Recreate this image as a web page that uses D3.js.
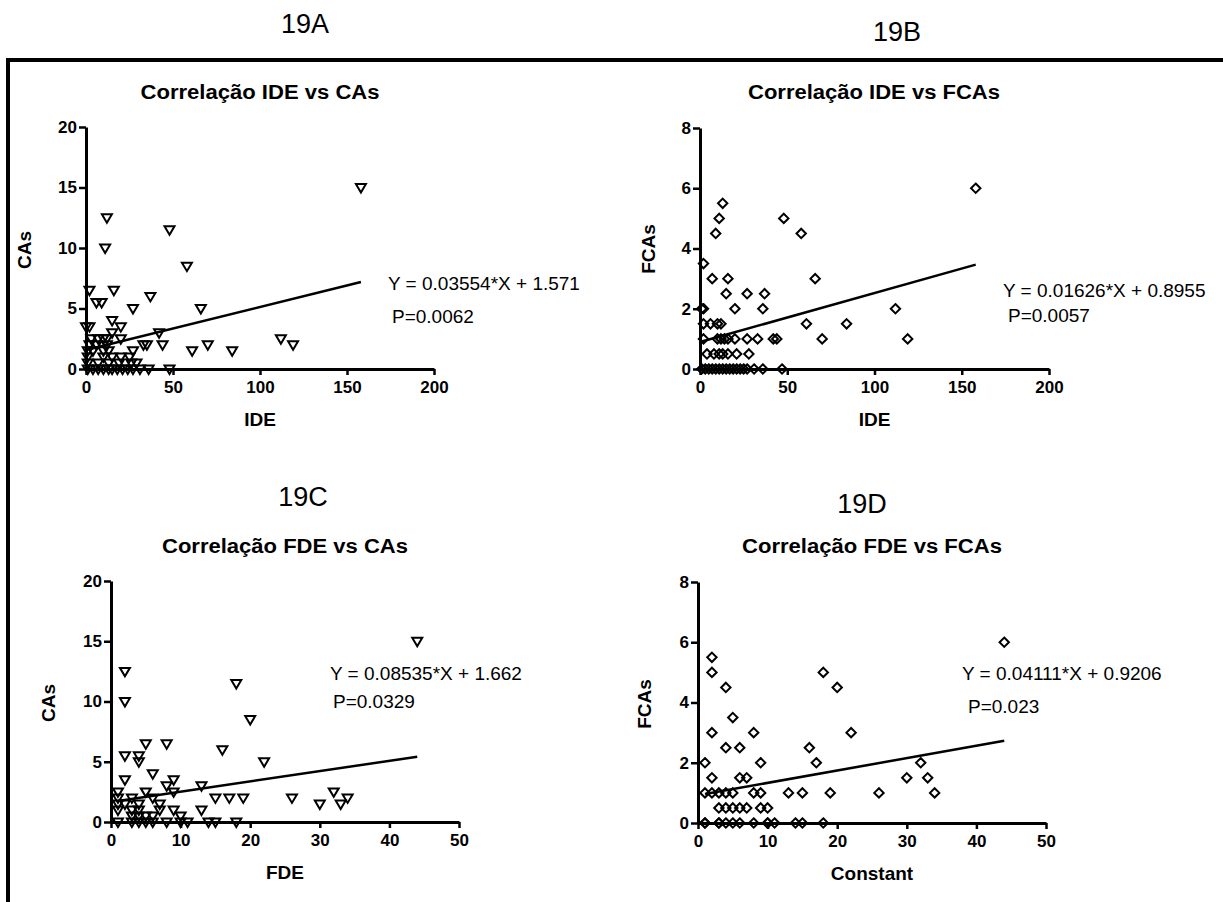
<!DOCTYPE html>
<html>
<head>
<meta charset="utf-8">
<script src="https://cdn.jsdelivr.net/npm/d3@7"></script>
<style>
  body { margin: 0; background: #fff; }
  text { font-family: "Liberation Sans", Arial, sans-serif; fill: #000; }
</style>
</head>
<body>
<svg id="chart"></svg>
<script>
const width = 1223, height = 902;

// 19A: IDE vs CAs
const ideA = [158, 12, 11, 48, 58, 2, 16, 37, 6, 9, 27, 66, 15, 2, 20, 42, 15, 0, 112, 119, 61, 70, 84, 44, 33, 35, 48,
  3, 7, 10, 12, 20, 1, 4, 10, 13, 27, 1, 10, 15, 20, 25, 1, 7, 13, 19, 26, 29,
  1, 4, 7, 10, 13, 15, 18, 21, 24, 27, 31, 36, 2, 6, 12];
const casA = [15, 12.5, 10, 11.5, 8.5, 6.5, 6.5, 6, 5.5, 5.5, 5, 5, 4, 3.5, 3.5, 3, 3, 3.5, 2.5, 2, 1.5, 2, 1.5, 2, 2, 2, 0,
  2.5, 2.5, 2.5, 2.5, 2.5, 1.5, 1.5, 1.5, 1.5, 1.5, 1, 1, 1, 1, 1, 0.5, 0.5, 0.5, 0.5, 0.5, 0.5,
  0, 0, 0, 0, 0, 0, 0, 0, 0, 0, 0, 0, 2, 2, 2];

// 19B: IDE vs FCAs
const ideB = [158, 13, 11, 9, 48, 58, 2, 7, 16, 66, 15, 27, 37, 1, 2, 20, 36, 112, 61, 84, 70, 119,
  2, 6, 10, 12, 2, 10, 12, 14, 16, 20, 27, 33, 42, 44,
  4, 8, 11, 13, 16, 21, 28,
  1, 3, 5, 7, 9, 11, 13, 15, 17, 19, 21, 23, 25, 27, 31, 36, 47];
const fcasB = [6, 5.5, 5, 4.5, 5, 4.5, 3.5, 3, 3, 3, 2.5, 2.5, 2.5, 2, 2, 2, 2, 2, 1.5, 1.5, 1, 1,
  1.5, 1.5, 1.5, 1.5, 1, 1, 1, 1, 1, 1, 1, 1, 1, 1,
  0.5, 0.5, 0.5, 0.5, 0.5, 0.5, 0.5,
  0, 0, 0, 0, 0, 0, 0, 0, 0, 0, 0, 0, 0, 0, 0, 0, 0];

// 19C: FDE vs CAs
const fdeC = [44, 2, 2, 18, 20, 5, 8, 16, 2, 4, 4, 22, 6, 2, 9, 8, 13, 9, 5, 1, 32, 15, 17, 19, 26, 34, 30, 33, 13, 9,
  1, 3, 6, 7, 1, 2, 4, 1, 3, 4, 7, 10, 6, 4, 3, 5,
  1, 3, 4, 5, 6, 8, 10, 11, 14, 15, 18];
const casC = [15, 12.5, 10, 11.5, 8.5, 6.5, 6.5, 6, 5.5, 5.5, 5, 5, 4, 3.5, 3.5, 3, 3, 2.5, 2.5, 2.5, 2.5, 2, 2, 2, 2, 2, 1.5, 1.5, 1, 1,
  2, 2, 2, 1.5, 1.5, 1.5, 1.5, 1, 1, 1, 1, 0.5, 0.5, 0.5, 0.5, 0.5,
  0, 0, 0, 0, 0, 0, 0, 0, 0, 0, 0];

// 19D: FDE vs FCAs
const fdeD = [44, 2, 2, 4, 20, 18, 5, 2, 8, 22, 4, 6, 16, 1, 9, 17, 32, 2, 6, 7, 30, 33,
  1, 2, 3, 4, 5, 8, 9, 13, 15, 19, 26, 34,
  3, 4, 5, 6, 7, 9, 10,
  1, 1, 3, 3, 4, 5, 6, 8, 10, 10, 11, 14, 15, 18];
const fcasD = [6, 5.5, 5, 4.5, 4.5, 5, 3.5, 3, 3, 3, 2.5, 2.5, 2.5, 2, 2, 2, 2, 1.5, 1.5, 1.5, 1.5, 1.5,
  1, 1, 1, 1, 1, 1, 1, 1, 1, 1, 1, 1,
  0.5, 0.5, 0.5, 0.5, 0.5, 0.5, 0.5,
  0, 0, 0, 0, 0, 0, 0, 0, 0, 0, 0, 0, 0, 0];

const ticksIDE = [0, 50, 100, 150, 200];
const ticksFDE = [0, 10, 20, 30, 40, 50];
const ticksCAs = [0, 5, 10, 15, 20];
const ticksFCAs = [0, 2, 4, 6, 8];

const svg = d3.select("#chart").attr("width", width).attr("height", height);

svg.append("rect").attr("width", width).attr("height", height).attr("fill", "#fff");

// moldura
svg.append("rect")
  .attr("x", 8).attr("y", 60).attr("width", 1230).attr("height", 900)
  .attr("fill", "none").attr("stroke", "#000").attr("stroke-width", 4);

const panelLabels = [
  { t: "19A", x: 305, y: 33 },
  { t: "19B", x: 897, y: 41 },
  { t: "19C", x: 303, y: 506 },
  { t: "19D", x: 862, y: 513 }
];
svg.selectAll(".plabel").data(panelLabels).enter().append("text")
  .attr("class", "plabel")
  .attr("x", d => d.x).attr("y", d => d.y)
  .attr("text-anchor", "middle")
  .style("font-size", "27px")
  .text(d => d.t);

const triangle = "M-5,-3.5L5,-3.5L0,5Z";
const diamond = "M0,-4.7L4.7,0L0,4.7L-4.7,0Z";

function drawPanel(p) {
  const x = d3.scaleLinear().domain([0, p.xTicks[p.xTicks.length - 1]]).range([p.x0, p.x1]);
  const y = d3.scaleLinear().domain([0, p.yTicks[p.yTicks.length - 1]]).range([p.y0, p.y1]);
  const g = svg.append("g");

  g.append("text")
    .attr("x", p.titleX).attr("y", p.titleY)
    .attr("text-anchor", "middle")
    .attr("textLength", p.titleW).attr("lengthAdjust", "spacingAndGlyphs")
    .style("font-size", "20px").style("font-weight", "bold")
    .text(p.title);

  const xAxis = g.append("g").attr("transform", `translate(0,${p.y0})`)
    .call(d3.axisBottom(x).tickValues(p.xTicks).tickSize(6).tickSizeOuter(0).tickPadding(6));
  const yAxis = g.append("g").attr("transform", `translate(${p.x0},0)`)
    .call(d3.axisLeft(y).tickValues(p.yTicks).tickSize(7).tickSizeOuter(0).tickPadding(2));
  [xAxis, yAxis].forEach(a => {
    a.select(".domain").attr("stroke", "#000").attr("stroke-width", 3);
    a.selectAll(".tick line").attr("stroke", "#000").attr("stroke-width", 2.5);
    a.selectAll(".tick text").style("font-size", "17px").style("font-weight", "bold")
      .style("font-family", "'Liberation Sans', Arial, sans-serif").attr("fill", "#000");
  });

  g.append("text")
    .attr("x", (p.x0 + p.x1) / 2).attr("y", p.y0 + 57)
    .attr("text-anchor", "middle")
    .style("font-size", "19px").style("font-weight", "bold")
    .text(p.xLabel);

  g.append("text")
    .attr("transform", `translate(${p.yLabelX},${p.yLabelY}) rotate(-90)`)
    .attr("text-anchor", "middle")
    .style("font-size", "19px").style("font-weight", "bold")
    .text(p.yLabel);

  const pts = p.xs.map((v, i) => [v, p.ys[i]]);
  const xmin = d3.min(p.xs), xmax = d3.max(p.xs);
  g.append("line")
    .attr("x1", x(xmin)).attr("y1", y(p.slope * xmin + p.intercept))
    .attr("x2", x(xmax)).attr("y2", y(p.slope * xmax + p.intercept))
    .attr("stroke", "#000").attr("stroke-width", 2.5);

  g.selectAll(".pt").data(pts).enter().append("path")
    .attr("class", "pt")
    .attr("transform", d => `translate(${x(d[0])},${y(d[1])})`)
    .attr("d", p.marker)
    .attr("fill", "none")
    .attr("stroke", "#000").attr("stroke-width", 2);

  g.append("text").attr("x", p.eqX).attr("y", p.eqY)
    .style("font-size", "19px").text(p.eq);
  g.append("text").attr("x", p.pX).attr("y", p.pY)
    .style("font-size", "19px").text(p.pText);
}

drawPanel({
  title: "Correlação IDE vs CAs", titleX: 260, titleY: 99, titleW: 239,
  xs: ideA, ys: casA, xTicks: ticksIDE, yTicks: ticksCAs,
  x0: 86, x1: 434, y0: 369, y1: 127,
  xLabel: "IDE", yLabel: "CAs", yLabelX: 31, yLabelY: 250,
  marker: triangle, slope: 0.03554, intercept: 1.571,
  eq: "Y = 0.03554*X + 1.571", eqX: 388, eqY: 290, pText: "P=0.0062", pX: 392, pY: 323
});

drawPanel({
  title: "Correlação IDE vs FCAs", titleX: 874, titleY: 99, titleW: 252,
  xs: ideB, ys: fcasB, xTicks: ticksIDE, yTicks: ticksFCAs,
  x0: 700, x1: 1049, y0: 369, y1: 128,
  xLabel: "IDE", yLabel: "FCAs", yLabelX: 655, yLabelY: 249,
  marker: diamond, slope: 0.01626, intercept: 0.8955,
  eq: "Y = 0.01626*X + 0.8955", eqX: 1003, eqY: 297, pText: "P=0.0057", pX: 1008, pY: 322
});

drawPanel({
  title: "Correlação FDE vs CAs", titleX: 285, titleY: 553, titleW: 246,
  xs: fdeC, ys: casC, xTicks: ticksFDE, yTicks: ticksCAs,
  x0: 111, x1: 459, y0: 822, y1: 581,
  xLabel: "FDE", yLabel: "CAs", yLabelX: 55, yLabelY: 703,
  marker: triangle, slope: 0.08535, intercept: 1.662,
  eq: "Y = 0.08535*X + 1.662", eqX: 330, eqY: 680, pText: "P=0.0329", pX: 333, pY: 708
});

drawPanel({
  title: "Correlação FDE vs FCAs", titleX: 872, titleY: 553, titleW: 260,
  xs: fdeD, ys: fcasD, xTicks: ticksFDE, yTicks: ticksFCAs,
  x0: 698, x1: 1046, y0: 823, y1: 582,
  xLabel: "Constant", yLabel: "FCAs", yLabelX: 651, yLabelY: 704,
  marker: diamond, slope: 0.04111, intercept: 0.9206,
  eq: "Y = 0.04111*X + 0.9206", eqX: 962, eqY: 680, pText: "P=0.023", pX: 968, pY: 713
});
</script>
</body>
</html>
